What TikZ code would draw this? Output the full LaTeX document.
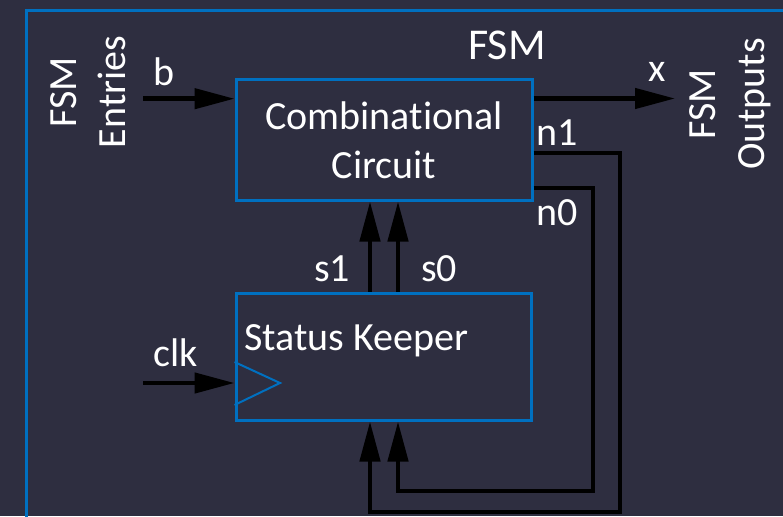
\documentclass[tikz,border=0pt]{standalone}
\usepackage{fontspec}
\setmainfont{Carlito}[Ligatures={NoCommon,NoRare,NoDiscretionary}]
\usetikzlibrary{arrows.meta}
\definecolor{bg}{HTML}{2E2E40}
\definecolor{fsmblue}{HTML}{0070C0}
\begin{document}
\begin{tikzpicture}[x=1pt,y=-1pt,
  box/.style={draw=fsmblue, line width=3pt, rectangle, inner sep=0pt},
  lbl/.style={text=white, inner sep=0pt, font=\fontsize{40}{49}\selectfont},
  wire/.style={draw=black, line width=4.5pt},
  arr/.style={wire, -{Triangle[length=40pt,width=20pt]}},
]
\useasboundingbox (0,0) rectangle (783,516);
\fill[bg] (0,0) rectangle (783,516);
\draw[fsmblue, line width=3pt] (26,530) -- (26,11) -- (800,11);

\node[box, lbl, minimum width=296pt, minimum height=120pt, align=center] (cc) at (384,140) {Combinational\\Circuit};
\node[box, minimum width=295pt, minimum height=127pt] (sk) at (383.5,356.5) {};
\node[lbl, anchor=base west] (skt) at (244,350) {Status Keeper};

\node[lbl, font=\fontsize{44}{53}\selectfont, anchor=base] (title) at (507,60) {FSM};
\node[lbl, rotate=90, align=center] (ent) at (88,92) {FSM\\Entries};
\node[lbl, rotate=90, align=center] (outp) at (730,104) {FSM\\Outputs};

\coordinate (bin) at (143,98.7);
\coordinate (xout) at (675,98.5);
\coordinate (n1r) at (620,153);
\coordinate (n1b) at (370,512);
\coordinate (n0r) at (593,188);
\coordinate (n0b) at (398,491);
\coordinate (clkin) at (143,383);

\draw[arr] (bin) -- (bin -| cc.west);
\draw[arr] (cc.east |- xout) -- (xout);
\draw[arr] (cc.east |- n1r) -- (n1r) |- (n1b) -- (n1b |- sk.south);
\draw[arr] (cc.east |- n0r) -- (n0r) |- (n0b) -- (n0b |- sk.south);
\draw[arr] (n1b |- sk.north) -- (n1b |- cc.south);
\draw[arr] (n0b |- sk.north) -- (n0b |- cc.south);
\draw[arr] (clkin) -- (clkin -| sk.west);

\draw[fsmblue, line width=2pt] (sk.west |- 0,362) -- (280,383) -- (sk.west |- 0,405);

\node[lbl, anchor=base] (lb) at (164,85) {b};
\node[lbl, anchor=base] (lx) at (657,82) {x};
\node[lbl, anchor=base] (ln1) at (557,145) {n1};
\node[lbl, anchor=base] (ln0) at (557,225) {n0};
\node[lbl, anchor=base] (ls1) at (332,281) {s1};
\node[lbl, anchor=base] (ls0) at (439,281) {s0};
\node[lbl, anchor=base] (lclk) at (176,366) {clk};
\end{tikzpicture}
\end{document}
